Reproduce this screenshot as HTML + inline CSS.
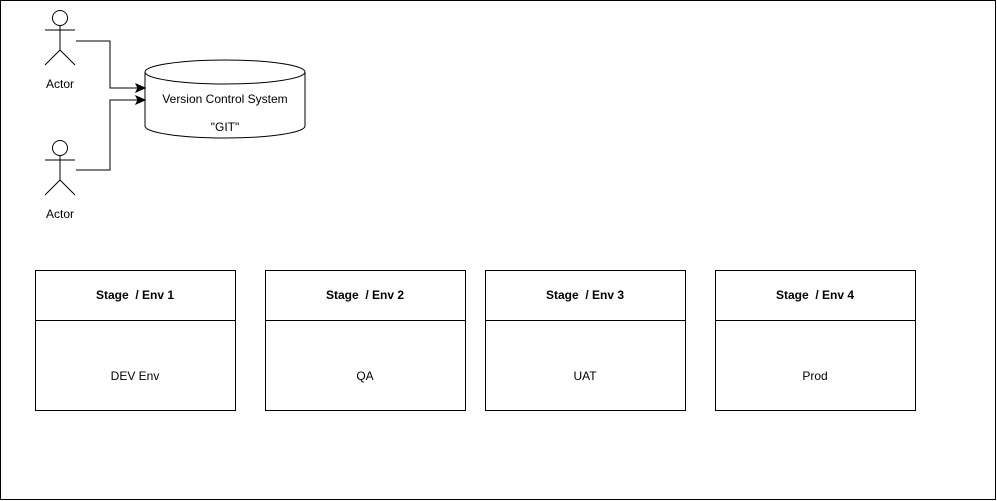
<!DOCTYPE html>
<html><head><style>
body{margin:0;background:#fff;}
svg{display:block;font-family:"Liberation Sans",Arial,sans-serif;}
</style></head><body>
<svg width="997" height="501" viewBox="0 0 997 501" xmlns="http://www.w3.org/2000/svg">
<rect x="0.5" y="0.5" width="995" height="499" fill="#fff" stroke="#000"/>
<g fill="none" stroke="#000" stroke-width="1">
<circle cx="60" cy="18" r="7.5"/><line x1="60" y1="25.5" x2="60" y2="50"/><line x1="45" y1="30" x2="75" y2="30"/><line x1="60" y1="50" x2="45" y2="65"/><line x1="60" y1="50" x2="75" y2="65"/>
<circle cx="60" cy="148" r="7.5"/><line x1="60" y1="155.5" x2="60" y2="180"/><line x1="45" y1="160" x2="75" y2="160"/><line x1="60" y1="180" x2="45" y2="195"/><line x1="60" y1="180" x2="75" y2="195"/>
<polyline points="76,41 110,41 110,88 138,88"/>
<polyline points="76,170 110,170 110,100 138,100"/>
<path d="M145,72 A80,12 0 0 1 305,72 L305,126 A80,12 0 0 1 145,126 Z" fill="#fff"/>
<path d="M145,72 A80,12 0 0 0 305,72"/>
</g>
<polygon points="145,88 136,84 138,88 136,92" fill="#000" stroke="#000"/>
<polygon points="145,100 136,96 138,100 136,104" fill="#000" stroke="#000"/>
<g font-size="12" text-anchor="middle" fill="#000">
<text x="60" y="88">Actor</text><text x="60" y="218">Actor</text>
<text x="225" y="103">Version Control System</text>
<text x="225" y="131">"GIT"</text>
</g>
<g fill="none" stroke="#000">
<rect x="35.5" y="270.5" width="200" height="140"/><line x1="35" y1="320.5" x2="236" y2="320.5"/>
<rect x="265.5" y="270.5" width="200" height="140"/><line x1="265" y1="320.5" x2="466" y2="320.5"/>
<rect x="485.5" y="270.5" width="200" height="140"/><line x1="485" y1="320.5" x2="686" y2="320.5"/>
<rect x="715.5" y="270.5" width="200" height="140"/><line x1="715" y1="320.5" x2="916" y2="320.5"/>
</g>
<g font-size="12" text-anchor="middle" fill="#000">
<text x="135" y="299" font-weight="bold" xml:space="preserve">Stage  / Env 1</text>
<text x="365" y="299" font-weight="bold" xml:space="preserve">Stage  / Env 2</text>
<text x="585" y="299" font-weight="bold" xml:space="preserve">Stage  / Env 3</text>
<text x="815" y="299" font-weight="bold" xml:space="preserve">Stage  / Env 4</text>
<text x="135" y="380">DEV Env</text>
<text x="365" y="380">QA</text>
<text x="585" y="380">UAT</text>
<text x="815" y="380">Prod</text>
</g>
</svg>
</body></html>
